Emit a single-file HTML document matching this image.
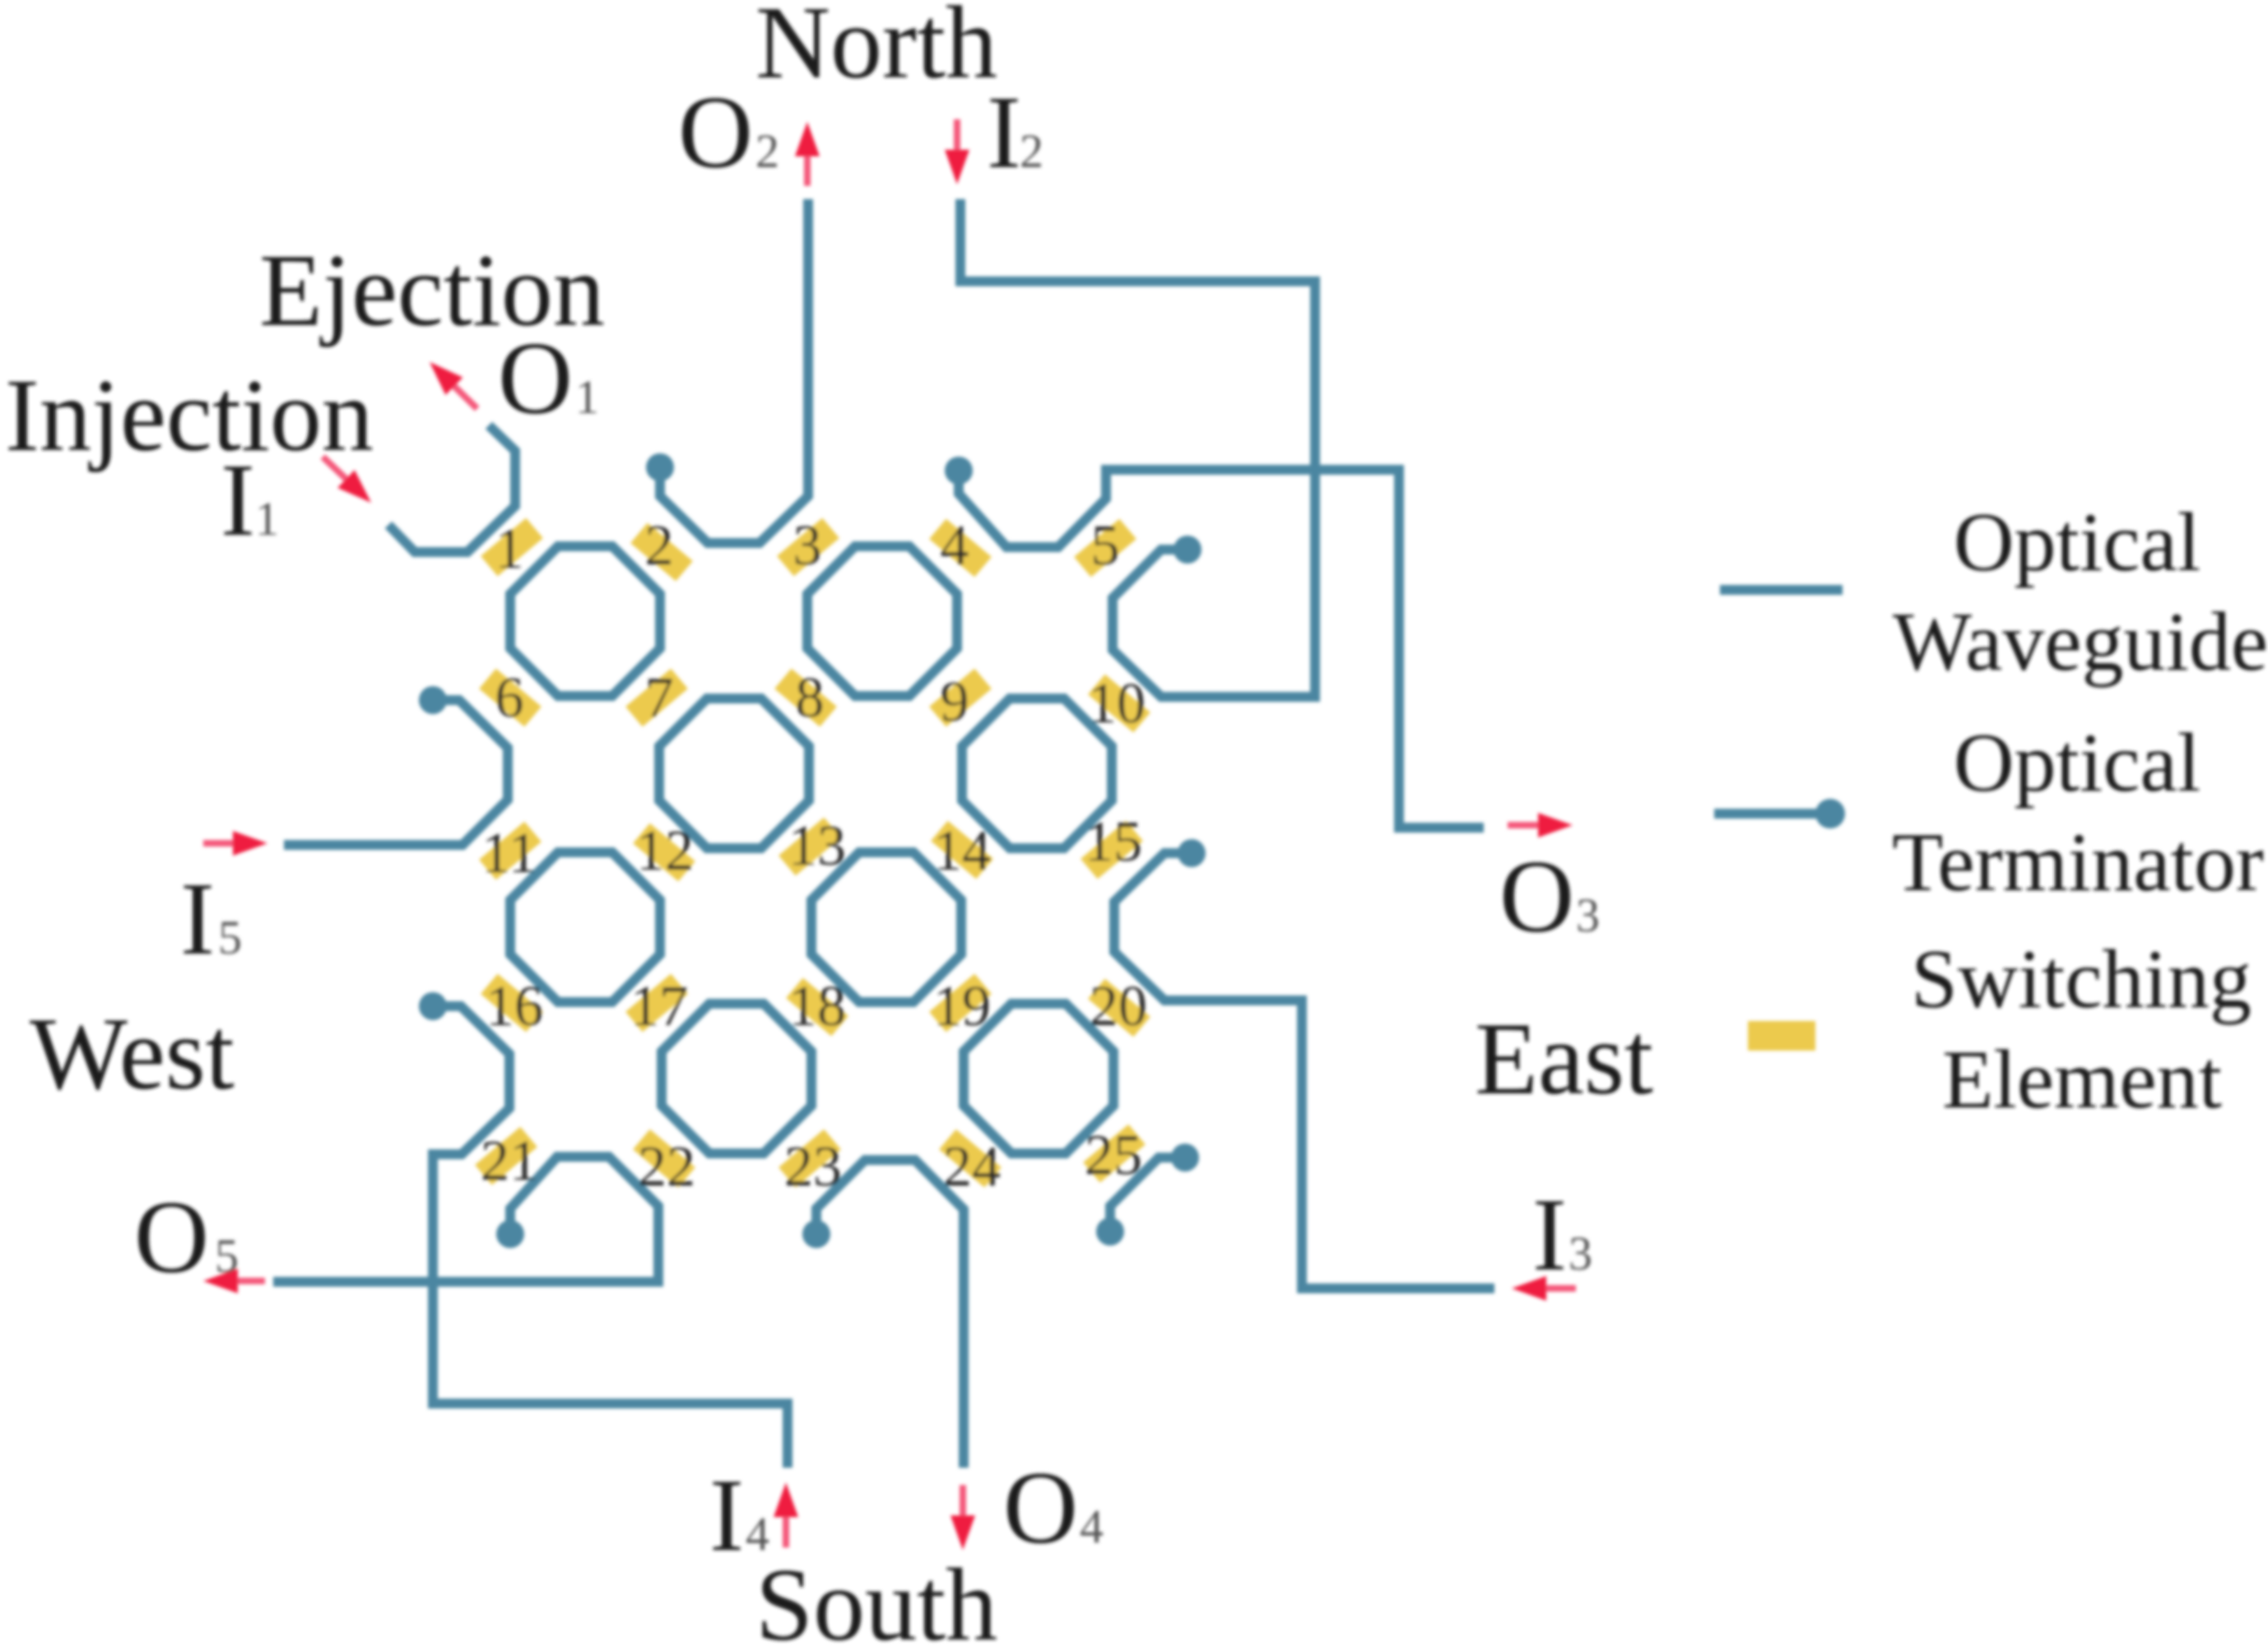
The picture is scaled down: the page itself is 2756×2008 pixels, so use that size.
<!DOCTYPE html>
<html><head><meta charset="utf-8">
<style>
html,body{margin:0;padding:0;background:#fff}
svg{display:block}
text{font-family:"Liberation Serif",serif}
</style></head>
<body>
<svg width="2756" height="2008" viewBox="0 0 2756 2008" xmlns="http://www.w3.org/2000/svg">
<defs>
<filter id="b" x="-5%" y="-5%" width="110%" height="110%"><feGaussianBlur stdDeviation="2"/></filter>
</defs>
<rect width="2756" height="2008" fill="#fff"/>
<g filter="url(#b)">
<!-- switching elements -->
<g fill="#ecca4e">
<rect x="-36" y="-16" width="72" height="32" transform="translate(622,665) rotate(-40)"/>
<rect x="-36" y="-16" width="72" height="32" transform="translate(804,671) rotate(40)"/>
<rect x="-36" y="-16" width="72" height="32" transform="translate(982,665) rotate(-40)"/>
<rect x="-36" y="-16" width="72" height="32" transform="translate(1167,666) rotate(40)"/>
<rect x="-36" y="-16" width="72" height="32" transform="translate(1343,666) rotate(-40)"/>
<rect x="-36" y="-16" width="72" height="32" transform="translate(620,848) rotate(40)"/>
<rect x="-36" y="-16" width="72" height="32" transform="translate(798,848) rotate(-40)"/>
<rect x="-36" y="-16" width="72" height="32" transform="translate(979,848) rotate(40)"/>
<rect x="-36" y="-16" width="72" height="32" transform="translate(1167,848) rotate(-40)"/>
<rect x="-36" y="-16" width="72" height="32" transform="translate(1360,855) rotate(40)"/>
<rect x="-36" y="-16" width="72" height="32" transform="translate(620,1034) rotate(-40)"/>
<rect x="-36" y="-16" width="72" height="32" transform="translate(807,1036) rotate(40)"/>
<rect x="-36" y="-16" width="72" height="32" transform="translate(984,1029) rotate(-40)"/>
<rect x="-36" y="-16" width="72" height="32" transform="translate(1169,1033) rotate(40)"/>
<rect x="-36" y="-16" width="72" height="32" transform="translate(1351,1033) rotate(-40)"/>
<rect x="-36" y="-16" width="72" height="32" transform="translate(622,1219) rotate(40)"/>
<rect x="-36" y="-16" width="72" height="32" transform="translate(798,1219) rotate(-40)"/>
<rect x="-36" y="-16" width="72" height="32" transform="translate(993,1224) rotate(40)"/>
<rect x="-36" y="-16" width="72" height="32" transform="translate(1167,1219) rotate(-40)"/>
<rect x="-36" y="-16" width="72" height="32" transform="translate(1360,1225) rotate(40)"/>
<rect x="-36" y="-16" width="72" height="32" transform="translate(615,1405) rotate(-40)"/>
<rect x="-36" y="-16" width="72" height="32" transform="translate(807,1408) rotate(40)"/>
<rect x="-36" y="-16" width="72" height="32" transform="translate(984,1408) rotate(-40)"/>
<rect x="-36" y="-16" width="72" height="32" transform="translate(1179,1408) rotate(40)"/>
<rect x="-36" y="-16" width="72" height="32" transform="translate(1354,1402) rotate(-40)"/>
<rect x="2124" y="1241" width="82" height="36"/>
</g>
<!-- rings -->
<g fill="none" stroke="#4b86a1" stroke-width="12" stroke-linejoin="miter">
<polygon points="-91,-33 -33,-91 33,-91 91,-33 91,33 33,91 -33,91 -91,33" transform="translate(711,755)"/>
<polygon points="-91,-33 -33,-91 33,-91 91,-33 91,33 33,91 -33,91 -91,33" transform="translate(1072,755)"/>
<polygon points="-91,-33 -33,-91 33,-91 91,-33 91,33 33,91 -33,91 -91,33" transform="translate(892,940)"/>
<polygon points="-91,-33 -33,-91 33,-91 91,-33 91,33 33,91 -33,91 -91,33" transform="translate(1260,940)"/>
<polygon points="-91,-33 -33,-91 33,-91 91,-33 91,33 33,91 -33,91 -91,33" transform="translate(711,1127)"/>
<polygon points="-91,-33 -33,-91 33,-91 91,-33 91,33 33,91 -33,91 -91,33" transform="translate(1077,1127)"/>
<polygon points="-91,-33 -33,-91 33,-91 91,-33 91,33 33,91 -33,91 -91,33" transform="translate(895,1311)"/>
<polygon points="-91,-33 -33,-91 33,-91 91,-33 91,33 33,91 -33,91 -91,33" transform="translate(1262,1311)"/>
<!-- waveguides -->
<polyline points="472,638 504,671 568,671 626,615 626,548 594,517"/>
<polyline points="802,568 802,603 860,660 923,660 982,603 982,242"/>
<polyline points="1165,572 1165,600 1223,665 1286,665 1344,606 1344,571 1700,571 1700,1006 1803,1006"/>
<polyline points="1167,242 1167,342 1598,342 1598,847 1411,847 1352,790 1352,727 1411,668 1443,668"/>
<polyline points="526,851 558,851 617,909 617,972 562,1027 345,1027"/>
<polyline points="1448,1037 1415,1037 1354,1096 1354,1157 1415,1216 1582,1216 1582,1566 1816,1566"/>
<polyline points="526,1223 560,1223 619,1281 619,1347 561,1403 526,1403 526,1706 957,1706 957,1784"/>
<polyline points="620,1500 620,1469 677,1406 740,1406 800,1466 800,1558 332,1558"/>
<polyline points="992,1500 992,1469 1051,1410 1112,1410 1171,1470 1171,1784"/>
<polyline points="1440,1407 1408,1407 1349,1466 1349,1497"/>
<line x1="2090" y1="717" x2="2239" y2="717"/>
<line x1="2083" y1="989" x2="2224" y2="989"/>
</g>
<!-- terminators -->
<g fill="#4b86a1">
<circle cx="802" cy="568" r="17"/>
<circle cx="1165" cy="572" r="17"/>
<circle cx="1443" cy="668" r="17"/>
<circle cx="526" cy="851" r="17"/>
<circle cx="1448" cy="1037" r="17"/>
<circle cx="526" cy="1223" r="17"/>
<circle cx="620" cy="1500" r="17"/>
<circle cx="992" cy="1500" r="17"/>
<circle cx="1440" cy="1407" r="17"/>
<circle cx="1349" cy="1497" r="17"/>
<circle cx="2224" cy="989" r="18"/>
</g>
<!-- arrows -->
<g>
<g transform="translate(981,148) rotate(-90)"><line x1="-78" y1="0" x2="-38" y2="0" stroke="#f4587a" stroke-width="8"/><polygon points="0,0 -42,-15 -42,15" fill="#ef1f3f"/></g>
<g transform="translate(1163,224) rotate(90)"><line x1="-79" y1="0" x2="-38" y2="0" stroke="#f4587a" stroke-width="8"/><polygon points="0,0 -42,-15 -42,15" fill="#ef1f3f"/></g>
<g transform="translate(522,440) rotate(-135.5)"><line x1="-81" y1="0" x2="-38" y2="0" stroke="#f4587a" stroke-width="8"/><polygon points="0,0 -42,-15 -42,15" fill="#ef1f3f"/></g>
<g transform="translate(451,611) rotate(43.5)"><line x1="-81" y1="0" x2="-38" y2="0" stroke="#f4587a" stroke-width="8"/><polygon points="0,0 -42,-15 -42,15" fill="#ef1f3f"/></g>
<g transform="translate(325,1025)"><line x1="-78" y1="0" x2="-38" y2="0" stroke="#f4587a" stroke-width="8"/><polygon points="0,0 -42,-15 -42,15" fill="#ef1f3f"/></g>
<g transform="translate(247,1557) rotate(180)"><line x1="-75" y1="0" x2="-38" y2="0" stroke="#f4587a" stroke-width="8"/><polygon points="0,0 -42,-15 -42,15" fill="#ef1f3f"/></g>
<g transform="translate(955,1802) rotate(-90)"><line x1="-79" y1="0" x2="-38" y2="0" stroke="#f4587a" stroke-width="8"/><polygon points="0,0 -42,-15 -42,15" fill="#ef1f3f"/></g>
<g transform="translate(1170,1884) rotate(90)"><line x1="-79" y1="0" x2="-38" y2="0" stroke="#f4587a" stroke-width="8"/><polygon points="0,0 -42,-15 -42,15" fill="#ef1f3f"/></g>
<g transform="translate(1911,1003)"><line x1="-79" y1="0" x2="-38" y2="0" stroke="#f4587a" stroke-width="8"/><polygon points="0,0 -42,-15 -42,15" fill="#ef1f3f"/></g>
<g transform="translate(1837,1566) rotate(180)"><line x1="-78" y1="0" x2="-38" y2="0" stroke="#f4587a" stroke-width="8"/><polygon points="0,0 -42,-15 -42,15" fill="#ef1f3f"/></g>
</g>
<!-- numbers -->
<g font-size="70" fill="#2a2a2a" text-anchor="middle">
<text x="619" y="690">1</text><text x="801" y="686">2</text><text x="981" y="686">3</text><text x="1160" y="686">4</text><text x="1343" y="686">5</text>
<text x="619" y="871">6</text><text x="801" y="871">7</text><text x="984" y="871">8</text><text x="1160" y="876">9</text><text x="1357" y="878">10</text>
<text x="619" y="1060">11</text><text x="808" y="1057">12</text><text x="993" y="1051">13</text><text x="1169" y="1057">14</text><text x="1353" y="1046">15</text>
<text x="625" y="1246">16</text><text x="801" y="1246">17</text><text x="993" y="1246">18</text><text x="1169" y="1246">19</text><text x="1359" y="1246">20</text>
<text x="619" y="1434">21</text><text x="810" y="1441">22</text><text x="988" y="1441">23</text><text x="1181" y="1441">24</text><text x="1353" y="1427">25</text>
</g>
<!-- main labels -->
<g font-size="126" fill="#1a1a1a">
<text x="315" y="395">Ejection</text>
<text x="6" y="547">Injection</text>
<text x="918" y="94">North</text>
<text x="36" y="1323">West</text>
<text x="1792" y="1329">East</text>
<text x="918" y="1993">South</text>
<text x="605" y="502">O</text>
<text x="268" y="650">I</text>
<text x="824" y="203">O</text>
<text x="1199" y="203">I</text>
<text x="1822" y="1132">O</text>
<text x="1862" y="1543">I</text>
<text x="1219" y="1875">O</text>
<text x="862" y="1884">I</text>
<text x="163" y="1546">O</text>
<text x="219" y="1159">I</text>
</g>
<g font-size="58" fill="#555">
<text x="699" y="502">1</text>
<text x="310" y="650">1</text>
<text x="918" y="203">2</text>
<text x="1239" y="203">2</text>
<text x="1915" y="1132">3</text>
<text x="1906" y="1543">3</text>
<text x="1312" y="1875">4</text>
<text x="906" y="1884">4</text>
<text x="261" y="1546">5</text>
<text x="265" y="1159">5</text>
</g>
<!-- legend text -->
<g font-size="102" fill="#1f1f1f" text-anchor="middle">
<text x="2524" y="693">Optical</text>
<text x="2528" y="814">Waveguide</text>
<text x="2524" y="961">Optical</text>
<text x="2525" y="1082">Terminator</text>
<text x="2529" y="1224">Switching</text>
<text x="2530" y="1346">Element</text>
</g>
</g>
</svg>
</body></html>
